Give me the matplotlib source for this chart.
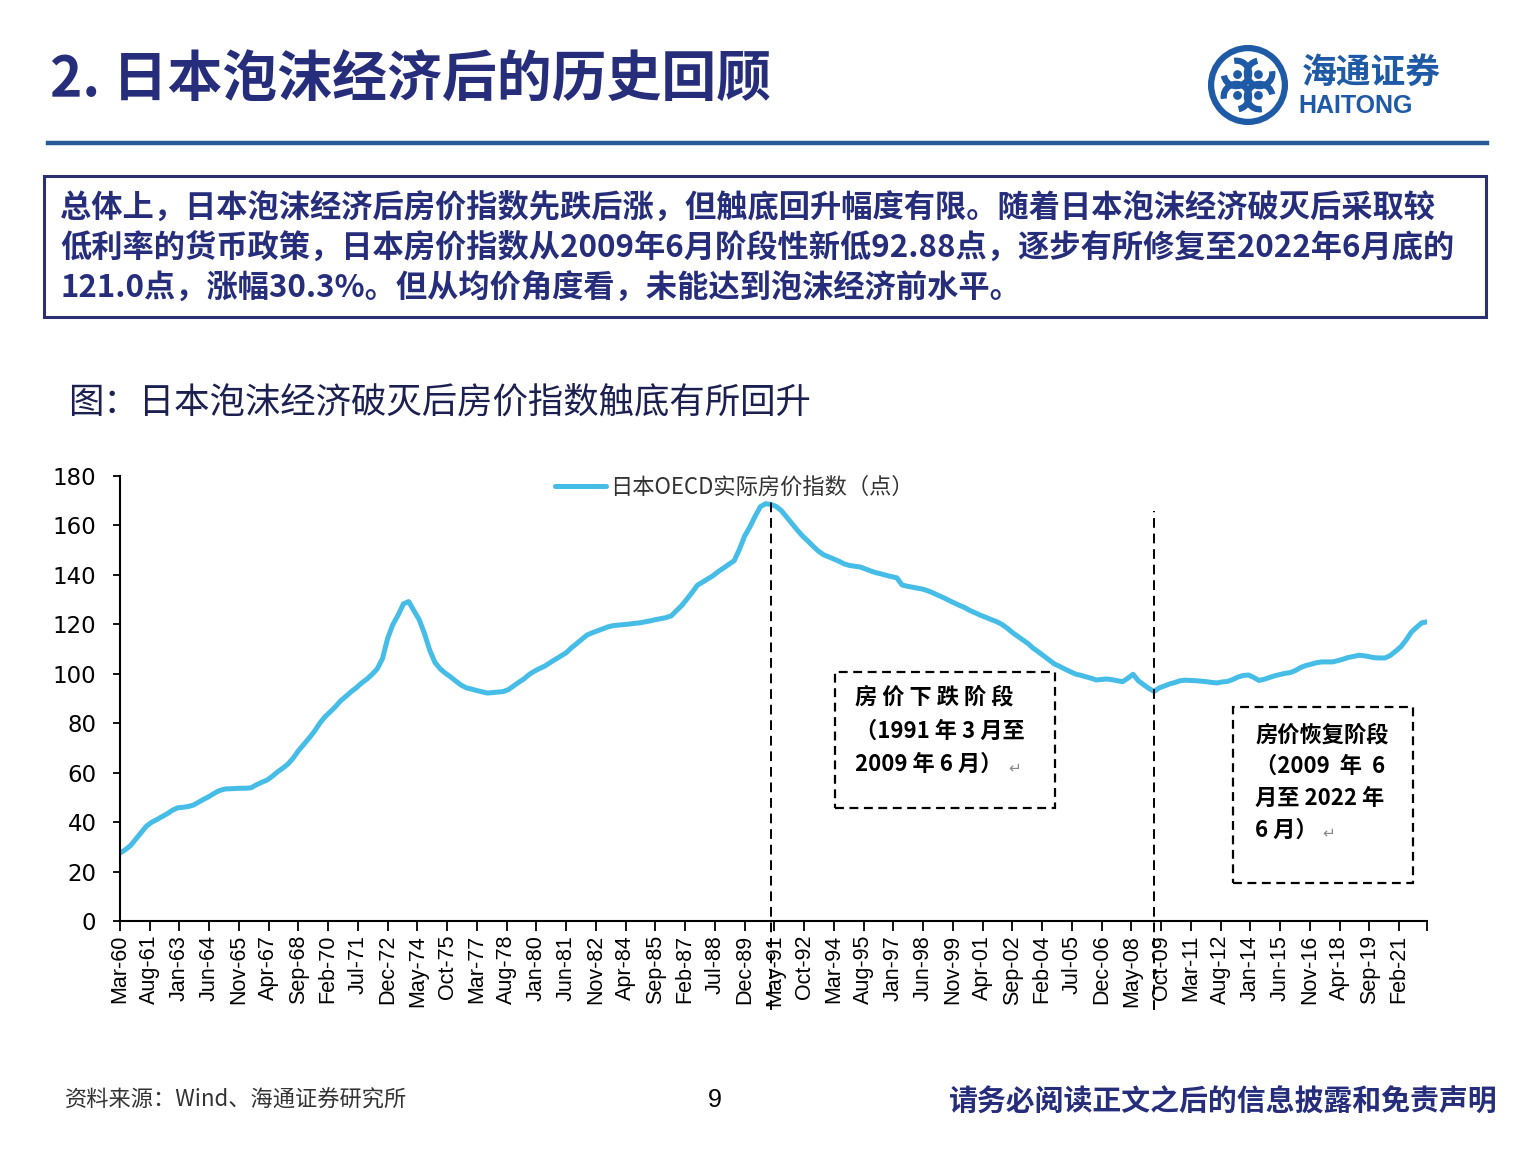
import matplotlib.pyplot as plt
import numpy as np
from matplotlib.patches import Rectangle, Circle, Arc

plt.rcParams['font.family'] = ['Noto Sans CJK SC', 'DejaVu Sans']

# 日本OECD实际房价指数（点），季度，Mar-60 .. Jun-22
house_index = [
    27.5, 28.8, 30.5, 33.1,     # 1960
    35.7, 38.3, 39.9, 41.0,     # 1961
    42.2, 43.4, 44.8, 45.8,     # 1962
    46.0, 46.3, 46.9, 48.1,     # 1963
    49.3, 50.4, 51.7, 52.8,     # 1964
    53.4, 53.5, 53.6, 53.7,     # 1965
    53.7, 53.9, 55.1, 56.1,     # 1966
    57.0, 58.5, 60.3, 61.8,     # 1967
    63.5, 65.9, 68.9, 71.4,     # 1968
    73.9, 76.6, 79.8, 82.5,     # 1969
    84.5, 86.6, 89.0, 90.8,     # 1970
    92.7, 94.3, 96.2, 97.8,     # 1971
    99.7, 102.0, 106.1, 114.4,  # 1972
    120.0, 123.8, 128.3, 129.2, # 1973
    125.5, 121.9, 116.3, 109.6, # 1974
    104.6, 102.0, 100.2, 98.7,  # 1975
    97.0, 95.4, 94.3, 93.8,     # 1976
    93.2, 92.7, 92.2, 92.4,     # 1977
    92.6, 92.8, 93.6, 95.1,     # 1978
    96.6, 98.0, 99.8, 101.1,    # 1979
    102.2, 103.2, 104.6, 105.9, # 1980
    107.2, 108.5, 110.5, 112.2, # 1981
    114.0, 115.7, 116.6, 117.4, # 1982
    118.2, 119.0, 119.5, 119.7, # 1983
    119.9, 120.1, 120.4, 120.6, # 1984
    121.0, 121.4, 121.9, 122.3, # 1985
    122.7, 123.4, 125.5, 127.6, # 1986
    130.2, 132.9, 135.8, 137.1, # 1987
    138.4, 139.7, 141.4, 142.8, # 1988
    144.3, 145.7, 150.3, 155.7, # 1989
    159.4, 163.7, 167.6, 168.8, # 1990
    168.5, 167.7, 166.0, 163.4, # 1991
    160.8, 158.2, 155.8, 153.8, # 1992
    151.7, 149.7, 148.2, 147.3, # 1993
    146.4, 145.5, 144.4, 143.8, # 1994
    143.5, 143.2, 142.4, 141.6, # 1995
    140.9, 140.4, 139.8, 139.3, # 1996
    138.8, 135.9, 135.4, 135.0, # 1997
    134.6, 134.2, 133.5, 132.6, # 1998
    131.6, 130.7, 129.6, 128.6, # 1999
    127.6, 126.7, 125.5, 124.6, # 2000
    123.6, 122.8, 121.9, 121.1, # 2001
    120.0, 118.5, 116.7, 115.2, # 2002
    113.7, 112.2, 110.3, 108.8, # 2003
    107.2, 105.6, 104.0, 103.0, # 2004
    101.9, 100.9, 99.9, 99.4,   # 2005
    98.8, 98.2, 97.5, 97.7,     # 2006
    97.9, 97.6, 97.2, 96.8,     # 2007
    98.2, 99.8, 97.2, 95.6,     # 2008
    94.1, 92.88, 94.3, 95.1,    # 2009
    95.9, 96.5, 97.2, 97.4,     # 2010
    97.3, 97.2, 97.0, 96.8,     # 2011
    96.5, 96.3, 96.7, 96.9,     # 2012
    97.7, 98.7, 99.3, 99.5,     # 2013
    98.5, 97.3, 97.8, 98.5,     # 2014
    99.2, 99.7, 100.2, 100.5,   # 2015
    101.4, 102.6, 103.4, 103.9, # 2016
    104.5, 104.8, 104.8, 104.8, # 2017
    105.3, 105.9, 106.6, 107.0, # 2018
    107.5, 107.3, 106.9, 106.5, # 2019
    106.4, 106.4, 107.4, 109.1, # 2020
    110.9, 113.6, 116.8, 118.8, # 2021
    120.6, 121.0,               # 2022
]

tick_labels = [
    'Mar-60', 'Aug-61', 'Jan-63', 'Jun-64', 'Nov-65', 'Apr-67', 'Sep-68', 'Feb-70',
    'Jul-71', 'Dec-72', 'May-74', 'Oct-75', 'Mar-77', 'Aug-78', 'Jan-80', 'Jun-81',
    'Nov-82', 'Apr-84', 'Sep-85', 'Feb-87', 'Jul-88', 'Dec-89', 'May-91', 'Oct-92',
    'Mar-94', 'Aug-95', 'Jan-97', 'Jun-98', 'Nov-99', 'Apr-01', 'Sep-02', 'Feb-04',
    'Jul-05', 'Dec-06', 'May-08', 'Oct-09', 'Mar-11', 'Aug-12', 'Jan-14', 'Jun-15',
    'Nov-16', 'Apr-18', 'Sep-19', 'Feb-21',
]

# 阶段分界（年, 月）
phase_dates = [(1991, 3), (2009, 6)]

W, H = 1538, 1153
NAVY = '#262E7C'
BLUE = '#1F5AA6'
LINE = '#45BDE6'
NARROW = ['Liberation Sans Narrow', 'DejaVu Sans Condensed', 'DejaVu Sans']


def fx(x):
    return x / W


def fy(y):
    return 1 - y / H


fig = plt.figure(figsize=(W / 100, H / 100), dpi=100)
fig.patch.set_facecolor('white')

# ---- header ----
fig.text(fx(50), fy(80), '2. 日本泡沫经济后的历史回顾', fontsize=39.5, weight='heavy',
         color=NAVY, va='center', ha='left')
fig.add_artist(plt.Line2D([fx(48), fx(1487)], [fy(143), fy(143)], color='#285A9A', lw=3.2))

# logo
lax = fig.add_axes([fx(1207), fy(126), 82 / W, 82 / H])
lax.set_xlim(-1, 1)
lax.set_ylim(-1, 1)
lax.set_aspect('equal')
lax.axis('off')
lax.add_patch(Circle((0, 0), 0.9, fill=False, lw=4.5, ec=BLUE))
for k in range(4):
    a = np.deg2rad(45 + 90 * k)
    c = (0.4 * np.cos(a), 0.4 * np.sin(a))
    lax.add_patch(Arc(c, 0.62, 0.62, theta1=90 * k + 100, theta2=90 * k + 370,
                      lw=4.5, color=BLUE))
    lax.add_patch(Circle((c[0] * 0.9, c[1] * 0.9), 0.09, color=BLUE))
fig.text(fx(1302), fy(72), '海通证券', fontsize=25, weight='bold', color=BLUE,
         va='center', ha='left', style='italic')
fig.text(fx(1298), fy(106), 'HAITONG', fontsize=18, weight='bold', color=BLUE,
         va='center', ha='left', family=['Liberation Sans', 'DejaVu Sans'])

# ---- summary box ----
fig.add_artist(Rectangle((fx(44), fy(317)), (1486 - 44) / W, (317 - 176) / H,
                         transform=fig.transFigure, fill=False, ec='#2B3075', lw=2.2))
summary = [
    '总体上，日本泡沫经济后房价指数先跌后涨，但触底回升幅度有限。随着日本泡沫经济破灭后采取较',
    '低利率的货币政策，日本房价指数从2009年6月阶段性新低92.88点，逐步有所修复至2022年6月底的',
    '121.0点，涨幅30.3%。但从均价角度看，未能达到泡沫经济前水平。',
]
for line, yy in zip(summary, [208, 248, 289]):
    fig.text(fx(60), fy(yy), line, fontsize=22.5, weight='bold', color=NAVY,
             va='center', ha='left')

fig.text(fx(68), fy(403), '图：日本泡沫经济破灭后房价指数触底有所回升', fontsize=25.5,
         weight='medium', color='#1C2050', va='center', ha='left')

# ---- chart ----
ax = fig.add_axes([fx(120), fy(921), (1427 - 120) / W, (921 - 476) / H])
months = np.arange(len(house_index)) * 3
ax.plot(months, house_index, color=LINE, lw=3.6, solid_capstyle='round',
        label='日本OECD实际房价指数（点）')
ax.set_xlim(0, 747)
ax.set_ylim(0, 180)
for s in ['top', 'right']:
    ax.spines[s].set_visible(False)
for s in ['left', 'bottom']:
    ax.spines[s].set_linewidth(1.5)

ax.set_yticks(range(0, 181, 20))
ax.tick_params(axis='y', length=5, width=1.3, pad=12, labelsize=16.5)
for lab in ax.get_yticklabels():
    lab.set_family(NARROW)

ax.set_xticks(np.arange(len(tick_labels)) * 17, tick_labels, rotation=90)
ax.set_xticks([747], minor=True)
ax.tick_params(axis='x', which='both', length=7, width=1.3, pad=3, labelsize=15.5)
for lab in ax.get_xticklabels():
    lab.set_family(['Liberation Sans', 'DejaVu Sans'])

tops = [170, 166]
for (yr, mo), top in zip(phase_dates, tops):
    m = (yr - 1960) * 12 + (mo - 3)
    ax.plot([m, m], [-36, top], color='k', lw=1.4, ls=(0, (5, 3)), clip_on=False)

leg = ax.legend(loc='center left', bbox_to_anchor=(fx(555), fy(487)),
                bbox_transform=fig.transFigure, frameon=False, fontsize=16,
                handlelength=2.3, handletextpad=0.2, borderpad=0, borderaxespad=0)
for t in leg.get_texts():
    t.set_color('#333333')

# 阶段标注
fig.add_artist(Rectangle((fx(835), fy(808)), (1055 - 835) / W, (808 - 672) / H,
                         transform=fig.transFigure, fill=False, ec='k', lw=1.6,
                         ls=(0, (4, 2.5))))
for line, yy in zip(['房 价 下 跌 阶 段', '（1991 年 3 月至', '2009 年 6 月）'],
                    [697, 731, 764]):
    fig.text(fx(855), fy(yy), line, fontsize=16, weight='bold', color='k',
             va='center', ha='left')
fig.text(fx(1008), fy(768), '↵', fontsize=11, color='#888888', va='center', ha='left')

fig.add_artist(Rectangle((fx(1233), fy(883)), (1413 - 1233) / W, (883 - 707) / H,
                         transform=fig.transFigure, fill=False, ec='k', lw=1.6,
                         ls=(0, (4, 2.5))))
for line, yy in zip(['房价恢复阶段', '（2009  年  6', '月至 2022 年', '6 月）'],
                    [735, 766, 798, 830]):
    fig.text(fx(1255), fy(yy), line, fontsize=16, weight='bold', color='k',
             va='center', ha='left')
fig.text(fx(1322), fy(833), '↵', fontsize=11, color='#888888', va='center', ha='left')

# ---- footer ----
fig.text(fx(65), fy(1100), '资料来源：Wind、海通证券研究所', fontsize=16, color='#333333',
         va='center', ha='left')
fig.text(fx(715), fy(1100), '9', fontsize=18, color='k', va='center', ha='center',
         family=['Liberation Sans', 'DejaVu Sans'])
fig.text(fx(948), fy(1102), '请务必阅读正文之后的信息披露和免责声明', fontsize=20.8,
         weight='bold', color=NAVY, va='center', ha='left')

fig.savefig('out.png', dpi=100)
